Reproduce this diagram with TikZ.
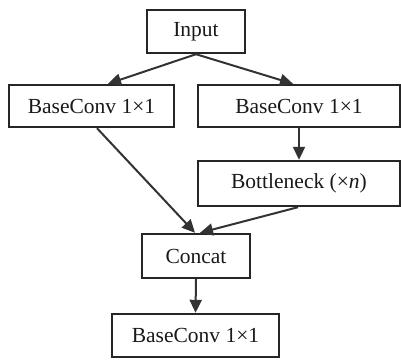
\documentclass[tikz,border=0pt]{standalone}
\usepackage{fontspec}
\setmainfont{Liberation Serif}
\usetikzlibrary{arrows.meta}
\begin{document}
\begin{tikzpicture}[x=1pt,y=1pt,
  box/.style={draw=black!85,line width=2.4pt,inner sep=0pt,anchor=center,
    font=\fontsize{21.5}{24}\selectfont,text=black!90},
  conn/.style={draw=black!80,line width=2pt,-{Triangle[length=13pt,width=12pt]}}]
\useasboundingbox (0,0) rectangle (401,-360);
\clip (0,0) rectangle (401,-360);
\node[box,minimum width=98pt,minimum height=43pt] (in) at (196,-31.5) {Input};
\node[box,minimum width=165pt,minimum height=42pt] (l) at (91.5,-106) {BaseConv 1×1};
\node[box,minimum width=202pt,minimum height=42pt] (r) at (299,-106) {BaseConv 1×1};
\node[box,minimum width=202pt,minimum height=45pt] (b) at (299,-183.5) {Bottleneck (×\textit{n})};
\node[box,minimum width=108pt,minimum height=44pt] (c) at (196,-256) {Concat};
\node[box,minimum width=167pt,minimum height=43pt] (o) at (195.5,-335.5) {BaseConv 1×1};
\draw[conn] (in.south) -- ([xshift=16.5pt]l.north);
\draw[conn] (in.south) -- ([xshift=-6pt]r.north);
\draw[conn] ([xshift=5.5pt]l.south) -- ([xshift=-1pt]c.north);
\draw[conn] (r.south) -- (b.north);
\draw[conn] ([xshift=-1pt]b.south) -- ([xshift=4pt]c.north);
\draw[conn] (c.south) -- (o.north);
\end{tikzpicture}
\end{document}
